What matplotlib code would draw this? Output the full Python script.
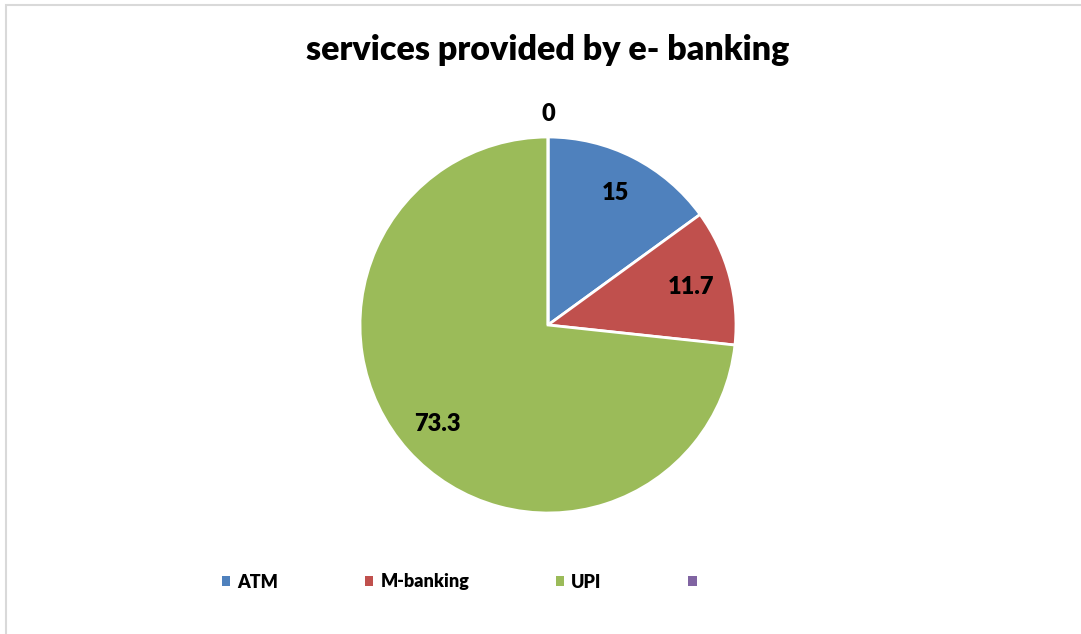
import numpy as np
import matplotlib.pyplot as plt
from matplotlib.patches import Rectangle

plt.rcParams['font.family'] = ['Lato', 'DejaVu Sans']

services = ["ATM", "M-banking", "UPI", ""]
shares = [15, 11.7, 73.3, 0]
value_labels = ["15", "11.7", "73.3", "0"]
colors = ["#4F81BD", "#C0504D", "#9BBB59", "#8064A2"]

fig = plt.figure(figsize=(10.81, 6.34), dpi=100)

# light grey chart frame
fig.patches.append(Rectangle((6 / 1081, -0.1), 1.2, (634 - 5) / 634 + 0.1,
                             transform=fig.transFigure, fill=False,
                             edgecolor="#D9D9D9", linewidth=1.5))

ax = fig.add_axes([360 / 1081, 121 / 634, 376 / 1081, 376 / 634])
wedges, _ = ax.pie(shares, colors=colors, startangle=90, counterclock=False,
                   radius=1.0,
                   wedgeprops=dict(edgecolor="white", linewidth=2))
ax.set_xlim(-1, 1)
ax.set_ylim(-1, 1)
ax.set_aspect("equal")
ax.axis("off")

# value labels inside the slices, the empty slice labelled above the pie
for w, txt, v in zip(wedges, value_labels, shares):
    mid = np.deg2rad((w.theta1 + w.theta2) / 2)
    r = 0.79 if v > 0 else 1.12
    ax.text(r * np.cos(mid), r * np.sin(mid), txt, ha="center", va="center",
            fontsize=17, fontweight="heavy", color="black", clip_on=False)

fig.text(548 / 1081, 1 - 50 / 634, "services provided by e- banking",
         ha="center", va="center", fontsize=24.5, fontweight="heavy")

leg = fig.legend(wedges, services, loc="center", ncol=4,
                 bbox_to_anchor=(463 / 1081, 1 - 582 / 634),
                 frameon=False, prop=dict(weight="heavy", size=13),
                 handlelength=0.45, handleheight=0.45, handletextpad=0.4,
                 columnspacing=4.8)
for h in leg.legend_handles:
    h.set_edgecolor("none")

fig.savefig("out.png", dpi=100)
